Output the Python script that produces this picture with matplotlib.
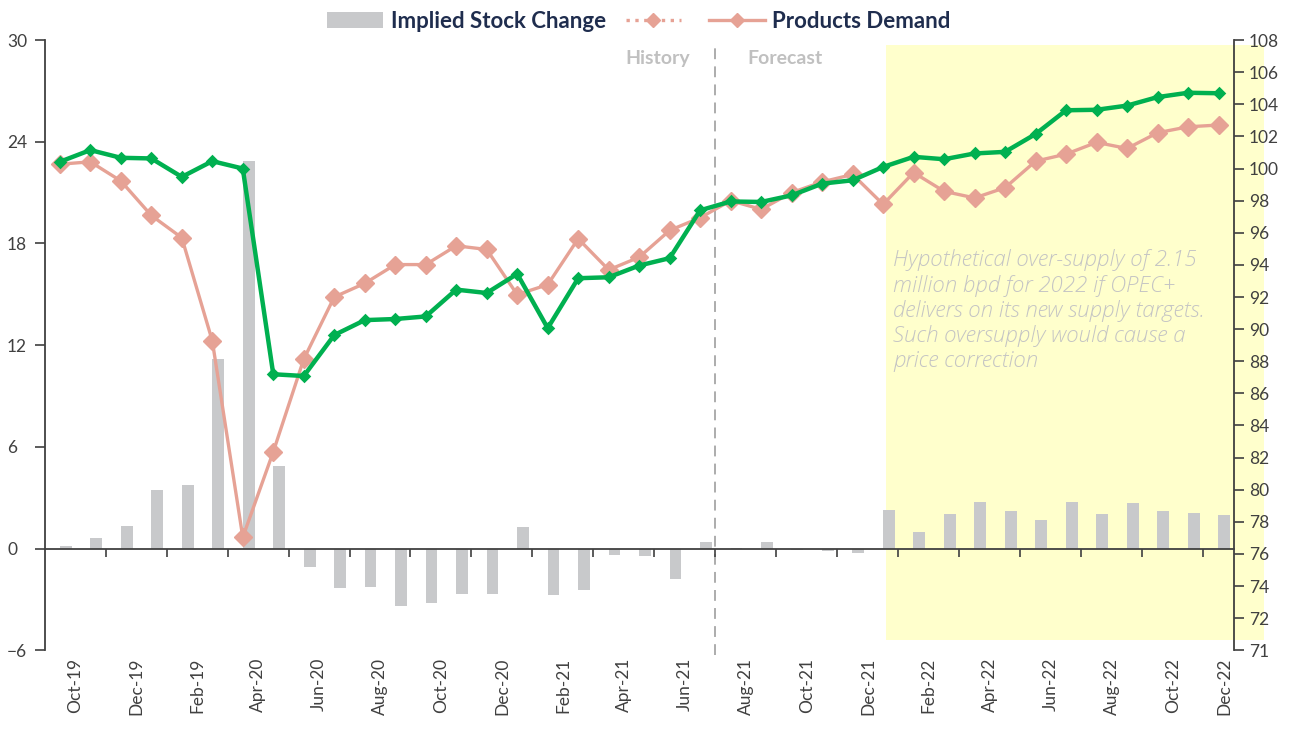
import numpy as np
import matplotlib
matplotlib.use('Agg')
import matplotlib.pyplot as plt
from matplotlib.patches import Rectangle, Patch
from matplotlib.lines import Line2D
import matplotlib.transforms as mtransforms

plt.rcParams['font.family'] = ['Lato', 'DejaVu Sans']

# tick labels, one every second month (Oct-19 .. Dec-22), typo kept from source
tick_labels = ['Oct-19', 'Dec-19', 'Feb-19', 'Apr-20', 'Jun-20', 'Aug-20', 'Oct-20',
               'Dec-20', 'Feb-21', 'Apr-21', 'Jun-21', 'Aug-21', 'Oct-21', 'Dec-21',
               'Feb-22', 'Apr-22', 'Jun-22', 'Aug-22', 'Oct-22', 'Dec-22']

# implied stock change (left axis)
stock_change = [0.14, 0.65, 1.36, 3.48, 3.74, 11.16, 22.85, 4.86, -1.06, -2.32,
                -2.27, -3.39, -3.21, -2.70, -2.66, 1.28, -2.74, -2.42, -0.38, -0.45,
                -1.77, 0.39, 0.02, 0.39, -0.10, -0.12, -0.28, 2.30, 0.98, 2.02,
                2.75, 2.22, 1.67, 2.75, 2.02, 2.66, 2.22, 2.10, 2.01]

# supply (green, right axis)
supply = [100.42, 101.15, 100.67, 100.63, 99.48, 100.46, 100.0, 87.19, 87.08, 89.63,
          90.56, 90.63, 90.79, 92.46, 92.25, 93.44, 90.06, 93.17, 93.23, 93.96,
          94.42, 97.40, 97.95, 97.92, 98.33, 99.06, 99.27, 100.10, 100.73, 100.58,
          100.94, 101.04, 102.15, 103.63, 103.66, 103.92, 104.45, 104.72, 104.69]

# products demand (pink, right axis)
demand = [100.27, 100.42, 99.23, 97.08, 95.69, 89.27, 77.04, 82.36, 88.13, 92.00,
          92.85, 94.02, 94.02, 95.19, 94.96, 92.15, 92.77, 95.63, 93.69, 94.48,
          96.15, 96.94, 98.00, 97.46, 98.50, 99.17, 99.63, 97.77, 99.75, 98.58,
          98.17, 98.81, 100.46, 100.90, 101.63, 101.25, 102.23, 102.60, 102.71]

note = ("Hypothetical over-supply of 2.15\nmillion bpd for 2022 if OPEC+\n"
        "delivers on its new supply targets.\nSuch oversupply would cause a\n"
        "price correction")

green = '#00b050'
pink = '#e6a295'
bar_col = '#c8c9cb'
axis_col = '#404040'

x = np.arange(len(supply))

fig = plt.figure(figsize=(12.96, 7.29), dpi=100)
ax = fig.add_axes([0.0344, 0.108, 0.9176, 0.837])
ax2 = ax.twinx()

# shaded forecast box
ax.add_patch(Rectangle((27.09, -5.41), 12.39, 35.12, facecolor='#ffffcc',
                       edgecolor='none', zorder=0, clip_on=False))

ax.bar(x + 0.19, stock_change, width=0.39, color=bar_col, zorder=2)

ax.set_xlim(-0.5, len(x) - 0.5)
ax.set_ylim(-6, 30)
ax.set_yticks(np.arange(-6, 31, 6))

# history / forecast divider
ax.plot([21.5, 21.5], [-6.3, 29.7], ls=(0, (6, 4)), color='#a6a6a6', lw=1.3,
        clip_on=False, zorder=1)
ax.text(19.61, 28.94, 'History', ha='center', va='center', color='#c0c0c0',
        fontsize=14, fontweight='bold')
ax.text(23.79, 28.94, 'Forecast', ha='center', va='center', color='#c0c0c0',
        fontsize=14, fontweight='bold')

ax.text(27.32, 17.65, note, ha='left', va='top', color='#c4c4c4', fontsize=16,
        family=['Open Sans', 'DejaVu Sans'], style='italic', fontweight='light',
        linespacing=1.19, zorder=3)

ax2.plot(x, demand, color=pink, lw=2.4, marker='D', markersize=9, zorder=3)
ax2.plot(x, supply, color=green, lw=3.2, marker='D', markersize=5.5,
         markeredgewidth=1.8, zorder=4)
ax2.set_ylim(70, 108)
r_ticks = np.arange(70, 109, 2)
ax2.set_yticks(r_ticks)
ax2.set_yticklabels(['71'] + [str(t) for t in r_ticks[1:]])

# spines
for s in ['top', 'right']:
    ax.spines[s].set_visible(False)
for s in ['top', 'left', 'bottom']:
    ax2.spines[s].set_visible(False)
ax.spines['bottom'].set_position(('data', 0))
ax.spines['bottom'].set_zorder(3)
for sp in [ax.spines['left'], ax.spines['bottom'], ax2.spines['right']]:
    sp.set_color(axis_col)
    sp.set_linewidth(1.3)

ax.set_xticks(np.arange(1.5, len(x) - 1, 2))
ax.tick_params(axis='x', direction='out', length=6, width=1.2, color=axis_col,
               labelbottom=False)
ax.tick_params(axis='y', direction='out', length=7, width=1.2, color=axis_col,
               labelsize=12.5, labelcolor=axis_col, pad=20)
for lab in ax.get_yticklabels():
    lab.set_horizontalalignment('left')
ax2.tick_params(axis='y', direction='out', length=7, width=1.2, color=axis_col,
                labelsize=12.5, labelcolor=axis_col, pad=4)

# month labels under the plot
trans = mtransforms.blended_transform_factory(ax.transData, ax.transAxes)
for k, lab in enumerate(tick_labels):
    ax.text(min(2 * k + 0.5, 38.2), -0.012, lab, transform=trans, rotation=90,
            ha='center', va='top', fontsize=12.5, color=axis_col)

handles = [Patch(facecolor=bar_col, edgecolor='none'),
           Line2D([], [], color=pink, ls=':', lw=2.4, marker='D', markersize=7),
           Line2D([], [], color=pink, lw=2.4, marker='D', markersize=7)]
leg = fig.legend(handles, ['Implied Stock Change', '', 'Products Demand'],
                 loc='center', bbox_to_anchor=(0.493, 0.971), ncol=3,
                 frameon=False, fontsize=16, handlelength=2.5,
                 handletextpad=0.35, columnspacing=0.9)
for t in leg.get_texts():
    t.set_color('#1f2d4e')
    t.set_fontweight('bold')

fig.savefig('out.png', dpi=100)
